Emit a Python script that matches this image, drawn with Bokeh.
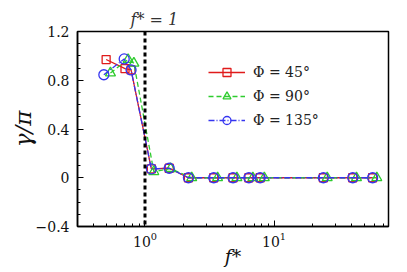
from bokeh.plotting import figure
from bokeh.models import Span, Legend, LegendItem, FixedTicker, LogTicker, Title
from bokeh.embed import file_html
from bokeh.resources import INLINE

# ---- data ----
f_45 = [0.50, 0.70, 0.78, 1.12, 1.54, 2.17, 3.41, 4.81, 6.38, 7.80, 24.1, 40.7, 58.0]
g_45 = [0.97, 0.895, 0.885, 0.073, 0.078, 0.0, 0.0, 0.0, 0.0, 0.0, 0.0, 0.0, 0.0]

f_90 = [0.54, 0.74, 0.82, 1.17, 1.58, 2.30, 3.65, 5.15, 6.85, 8.40, 25.8, 43.5, 62.5]
g_90 = [0.86, 0.97, 0.94, 0.05, 0.075, 0.0, 0.0, 0.0, 0.0, 0.0, 0.0, 0.0, 0.0]

f_135 = [0.48, 0.69, 0.78, 1.12, 1.54, 2.17, 3.41, 4.81, 6.38, 7.80, 24.1, 40.7, 58.0]
g_135 = [0.845, 0.975, 0.885, 0.073, 0.078, 0.0, 0.0, 0.0, 0.0, 0.0, 0.0, 0.0, 0.0]

labels = ["\u03a6 = 45\u00b0", "\u03a6 = 90\u00b0", "\u03a6 = 135\u00b0"]
y_ticks = [-0.4, 0.0, 0.4, 0.8, 1.2]
y_minor = [-0.3, -0.2, -0.1, 0.1, 0.2, 0.3, 0.5, 0.6, 0.7, 0.9, 1.0, 1.1]
f_crit = 1.0

SERIF = "DejaVu Serif"

p = figure(width=407, height=272, x_axis_type="log",
           x_range=(0.3, 77), y_range=(-0.4, 1.2),
           output_backend="svg", toolbar_location=None,
           min_border_left=77, min_border_right=19,
           min_border_top=31, min_border_bottom=46)

p.grid.visible = False
p.background_fill_color = "white"
p.outline_line_color = "black"
p.outline_line_width = 1.5
p.outline_line_alpha = 1.0

# axes
for ax in (p.xaxis[0], p.yaxis[0]):
    ax.axis_line_width = 1.5
    ax.axis_line_color = "black"
    ax.major_tick_in = 6
    ax.major_tick_out = 0
    ax.minor_tick_in = 3
    ax.minor_tick_out = 0
    ax.major_tick_line_color = "black"
    ax.minor_tick_line_color = "black"
    ax.major_label_text_font = SERIF
    ax.major_label_text_font_size = "14px"
    ax.major_label_text_color = "#111111"
    ax.axis_label_text_font = SERIF
    ax.axis_label_text_font_style = "italic"
    ax.axis_label_text_color = "#111111"

p.yaxis[0].ticker = FixedTicker(ticks=y_ticks, minor_ticks=y_minor)
p.yaxis[0].major_label_standoff = 8
p.yaxis[0].axis_label = "\u03b3/\u03c0"
p.yaxis[0].axis_label_text_font_size = "23px"
p.yaxis[0].axis_label_standoff = -3

p.xaxis[0].ticker = LogTicker(num_minor_ticks=10)
p.xaxis[0].major_label_standoff = 5
p.xaxis[0].axis_label = "f*"
p.xaxis[0].axis_label_text_font_size = "19px"
p.xaxis[0].axis_label_standoff = -5

# annotation above the plot
p.title = Title(text="f* = 1", align="left", offset=53, standoff=6,
                text_font=SERIF, text_font_size="16px",
                text_font_style="italic", text_color="#333333")

# critical frequency line
p.add_layout(Span(location=f_crit, dimension="height", line_color="black",
                  line_width=3, line_dash="4 3"))

series = [
    (f_45, g_45, "#e01b1b", "solid", "square", 8),
    (f_90, g_90, "#2ecc2e", "5 3", "triangle", 10),
    (f_135, g_135, "#3535f0", "6 2 1 2", "circle", 10),
]

items = []
for (xs, ys, col, dash, mk, sz), lab in zip(series, labels):
    r1 = p.line(xs, ys, line_color=col, line_width=1.3, line_dash=dash)
    r2 = p.scatter(xs, ys, marker=mk, size=sz, line_color=col, line_width=1.3,
                   fill_alpha=0)
    items.append(LegendItem(label=lab, renderers=[r1, r2]))

legend = Legend(items=items, location=(131, 96), padding=0, margin=0,
                spacing=4, glyph_width=37, glyph_height=20, label_height=20,
                label_standoff=8, label_text_font=SERIF,
                label_text_font_size="14px", label_text_color="#222222",
                background_fill_alpha=0, border_line_alpha=0)
p.add_layout(legend)

open("out.html", "w").write(file_html(p, INLINE))
